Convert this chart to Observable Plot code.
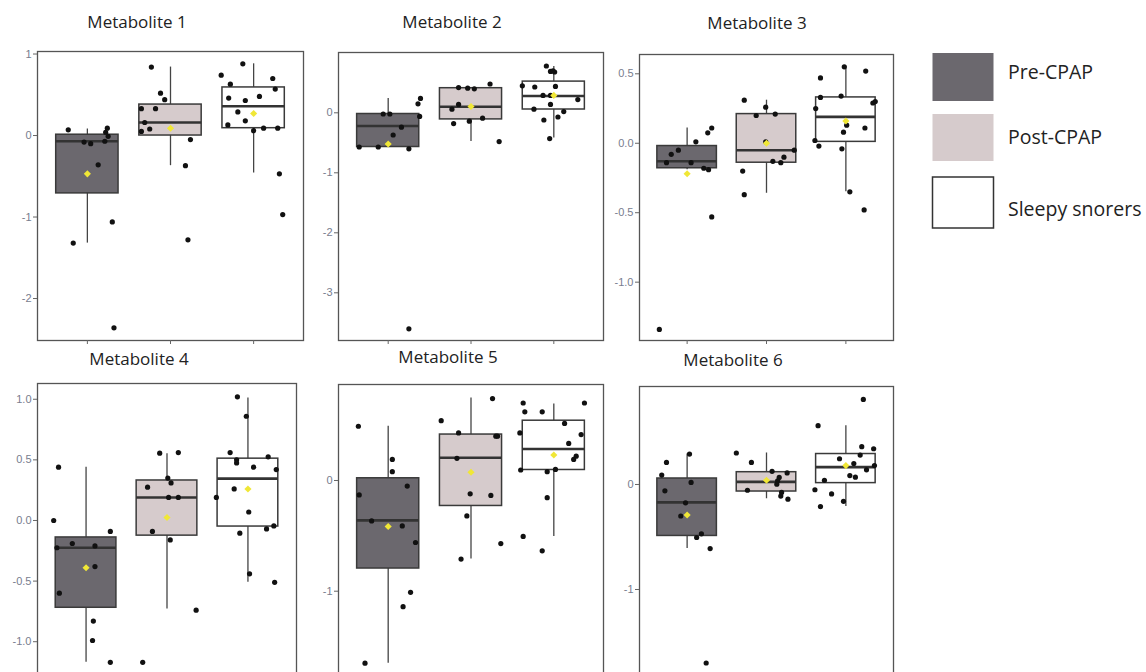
<!DOCTYPE html>
<html><head><meta charset="utf-8">
<script src="https://cdn.jsdelivr.net/npm/d3@7"></script>
<script src="https://cdn.jsdelivr.net/npm/@observablehq/plot@0.6"></script>
<style>
html,body{margin:0;padding:0;background:#fff;overflow:hidden;}
#root{position:relative;width:1146px;height:672px;overflow:hidden;background:#fff;}
</style></head><body><div id="root"></div>
<script>
// ---------- DATA ----------
const groups = ["Pre-CPAP", "Post-CPAP", "Sleepy snorers"];
const metabolites = ["Metabolite 1", "Metabolite 2", "Metabolite 3", "Metabolite 4", "Metabolite 5", "Metabolite 6"];

const yTicks = [[1, 0, -1, -2], [0, -1, -2, -3], [0.5, 0, -0.5, -1], [1, 0.5, 0, -0.5, -1], [0, -1], [0, -1]];
const tickDecimals = [0, 0, 1, 1, 0, 0];
const yDomains = [[-2.515, 1.031], [-3.795, 1.005], [-1.42, 0.639], [-1.485, 1.13], [-1.987, 0.867], [-2.057, 0.933]];

// rows = metabolites, columns = groups
const boxQ1 = [[-0.71, 0.0, 0.09], [-0.57, -0.11, 0.055], [-0.18, -0.14, 0.01], [-0.72, -0.125, -0.05], [-0.795, -0.23, 0.095], [-0.49, -0.067, 0.013]];
const boxMedian = [[-0.07, 0.16, 0.36], [-0.22, 0.10, 0.28], [-0.13, -0.05, 0.19], [-0.225, 0.19, 0.345], [-0.36, 0.205, 0.285], [-0.17, 0.025, 0.165]];
const boxQ3 = [[0.01, 0.38, 0.59], [-0.02, 0.41, 0.52], [-0.02, 0.21, 0.33], [-0.14, 0.33, 0.51], [0.02, 0.415, 0.54], [0.057, 0.117, 0.29]];
const whiskerLow = [[-1.32, -0.37, -0.46], [-0.57, -0.48, -0.42], [-0.19, -0.36, -0.35], [-1.17, -0.73, -0.51], [-1.65, -0.71, -0.505], [-0.61, -0.136, -0.21]];
const whiskerHigh = [[0.08, 0.84, 0.88], [0.24, 0.41, 0.77], [0.11, 0.31, 0.55], [0.44, 0.55, 1.01], [0.49, 0.745, 0.69], [0.29, 0.30, 0.56]];
const means = [[-0.47, 0.09, 0.27], [-0.52, 0.105, 0.29], [-0.22, 0.0, 0.16], [-0.39, 0.025, 0.26], [-0.415, 0.075, 0.23], [-0.29, 0.04, 0.18]];

// individual points: [value, jitter (in group units)]
const m1Pre = [[0.07,-0.23],[-0.08,-0.04],[-0.10,0.04],[0.09,0.24],[0.04,0.22],[-0.01,0.25],[-0.07,0.21],[-0.36,0.13],[-1.06,0.30],[-1.32,-0.17],[-2.36,0.32]];
const m1Post = [[0.84,-0.23],[0.52,-0.12],[0.44,-0.07],[0.33,-0.35],[0.33,-0.18],[0.16,-0.31],[0.08,-0.25],[0.05,-0.35],[-0.05,0.24],[-0.37,0.18],[-1.28,0.21]];
const m1Sleepy = [[0.88,-0.13],[0.74,-0.39],[0.63,-0.28],[0.70,0.23],[0.57,0.26],[0.46,-0.30],[0.43,-0.10],[0.48,0.07],[0.29,-0.19],[0.18,-0.10],[0.13,-0.31],[0.06,0.0],[0.09,0.12],[0.09,0.29],[-0.47,0.31],[-0.97,0.35]];
const m2Pre = [[-0.57,-0.35],[-0.57,-0.12],[-0.02,-0.06],[-0.02,0.02],[-0.24,0.16],[-0.37,0.06],[-0.60,0.25],[0.15,0.36],[0.24,0.39],[-0.06,0.38],[-3.6,0.25]];
const m2Post = [[0.42,-0.15],[0.41,-0.04],[0.40,0.04],[0.48,0.23],[0.14,-0.15],[0.06,-0.23],[-0.18,-0.21],[-0.14,-0.02],[-0.09,0.14],[-0.48,0.34]];
const m2Sleepy = [[0.78,-0.09],[0.69,-0.04],[0.68,0.01],[0.70,-0.01],[0.45,-0.38],[0.43,-0.23],[0.44,0.02],[0.29,-0.13],[0.29,-0.04],[0.22,0.29],[0.14,-0.04],[0.06,-0.24],[0.02,0.12],[-0.07,0.05],[-0.12,-0.12],[-0.43,-0.05]];
const m3Pre = [[-0.14,-0.26],[-0.08,-0.20],[-0.05,-0.11],[-0.14,0.05],[0.01,0.11],[-0.18,0.21],[-0.19,0.27],[0.075,0.26],[0.11,0.31],[-0.53,0.31],[-1.34,-0.35]];
const m3Post = [[0.31,-0.28],[0.20,-0.13],[0.26,-0.01],[0.21,0.11],[-0.20,-0.30],[-0.37,-0.28],[-0.13,0.08],[-0.14,0.18],[-0.10,0.22],[-0.05,0.35],[0.01,-0.01]];
const m3Sleepy = [[0.55,-0.02],[0.52,0.25],[0.47,-0.32],[0.33,-0.32],[0.34,-0.06],[0.25,-0.38],[0.29,0.34],[0.30,0.37],[0.13,0.01],[0.08,-0.03],[0.11,0.24],[0.02,-0.39],[-0.02,-0.34],[-0.04,-0.05],[-0.35,0.05],[-0.48,0.23]];
const m4Pre = [[0.44,-0.34],[0.0,-0.40],[-0.225,-0.36],[-0.19,-0.17],[-0.21,0.11],[-0.09,0.30],[-0.38,0.11],[-0.60,-0.33],[-0.83,0.09],[-0.99,0.08],[-1.17,0.30]];
const m4Post = [[0.555,-0.09],[0.56,0.14],[0.275,-0.24],[0.35,0.01],[0.31,0.05],[0.19,0.02],[0.19,0.14],[-0.09,-0.18],[-0.16,0.04],[-0.74,0.36],[-1.17,-0.30]];
const m4Sleepy = [[1.02,-0.13],[0.86,-0.02],[0.56,-0.22],[0.50,-0.14],[0.475,-0.14],[0.44,0.07],[0.525,0.25],[0.42,0.35],[0.26,-0.17],[0.19,-0.39],[0.07,0.01],[-0.105,-0.10],[-0.07,0.23],[-0.045,0.32],[-0.44,0.02],[-0.51,0.33]];
const m5Pre = [[0.49,-0.36],[0.19,0.05],[0.08,0.05],[-0.13,-0.35],[-0.05,0.23],[-0.365,-0.20],[-0.41,0.17],[-0.56,0.33],[-1.01,0.27],[-1.14,0.18],[-1.65,-0.28]];
const m5Post = [[0.54,-0.36],[0.43,-0.15],[0.40,0.30],[0.40,0.32],[0.20,-0.17],[0.74,0.26],[-0.12,-0.01],[-0.135,0.24],[-0.32,-0.05],[-0.57,0.36],[-0.71,-0.12]];
const m5Sleepy = [[0.70,-0.37],[0.62,-0.35],[0.62,-0.14],[0.70,0.37],[0.515,0.13],[0.43,-0.41],[0.415,0.33],[0.335,0.18],[0.22,0.27],[0.19,0.24],[0.095,-0.40],[0.08,-0.08],[0.10,0.02],[-0.155,-0.08],[-0.505,-0.37],[-0.635,-0.14]];
const m6Pre = [[0.29,0.03],[0.21,-0.26],[0.09,-0.32],[0.02,0.05],[-0.06,-0.28],[-0.175,-0.02],[-0.30,-0.08],[-0.47,0.18],[-0.505,0.12],[-0.61,0.29],[-1.70,0.24]];
const m6Post = [[0.30,-0.38],[0.21,-0.19],[0.125,0.07],[0.11,0.26],[0.067,0.16],[0.035,0.14],[0.003,0.13],[-0.055,-0.24],[-0.076,0.19],[-0.11,0.18],[-0.14,0.27]];
const m6Sleepy = [[0.81,0.22],[0.56,-0.35],[0.36,0.20],[0.34,0.35],[0.28,0.18],[0.245,-0.08],[0.20,0.10],[0.18,0.36],[0.14,0.26],[0.085,0.05],[0.07,0.12],[0.04,-0.27],[-0.05,-0.39],[-0.09,-0.18],[-0.16,-0.03],[-0.21,-0.32]];

const points = [
  [m1Pre, m1Post, m1Sleepy], [m2Pre, m2Post, m2Sleepy], [m3Pre, m3Post, m3Sleepy],
  [m4Pre, m4Post, m4Sleepy], [m5Pre, m5Post, m5Sleepy], [m6Pre, m6Post, m6Sleepy]
];

// ---------- STYLE / LAYOUT ----------
const groupFill = ["#6b686e", "#d6cbcc", "#ffffff"];
const layout = [
  {left: 37,  top: 51,  width: 266, bottom: 340, tx: 137, ty: 28},
  {left: 338, top: 52,  width: 265, bottom: 340, tx: 452, ty: 28},
  {left: 639, top: 54,  width: 254, bottom: 340, tx: 757, ty: 29},
  {left: 37,  top: 383, width: 259, bottom: 700, tx: 139, ty: 365},
  {left: 338, top: 384, width: 265, bottom: 700, tx: 448, ty: 363},
  {left: 639, top: 386, width: 254, bottom: 700, tx: 733, ty: 366}
];
const mL = 40, mR = 6, mT = 8, mB = 10;
const halfBox = 0.375;

const root = document.getElementById("root");

metabolites.forEach((name, i) => {
  const L = layout[i];
  const stats = groups.map((g, j) => ({
    group: g, gi: j,
    q1: boxQ1[i][j], med: boxMedian[i][j], q3: boxQ3[i][j],
    lo: whiskerLow[i][j], hi: whiskerHigh[i][j], mean: means[i][j]
  }));
  const pts = points[i].flatMap((arr, j) => arr.map(([v, jit]) => ({gi: j, v, jit})));
  const fmt = d => tickDecimals[i] ? d.toFixed(1) : String(d);
  const chart = Plot.plot({
    width: L.width + mL + mR,
    height: (L.bottom - L.top) + mT + mB,
    marginLeft: mL, marginRight: mR, marginTop: mT, marginBottom: mB,
    x: {domain: [-0.6, 2.6]},
    y: {domain: yDomains[i]},
    color: {type: "identity"},
    style: {fontFamily: "'Liberation Sans', Arial, sans-serif", fontSize: "11px", background: "transparent", overflow: "visible"},
    marks: [
      Plot.frame({fill: "#fff", stroke: "#555", strokeWidth: 1.3}),
      Plot.axisY({ticks: yTicks[i], tickFormat: fmt, tickSize: 4, tickPadding: 2, stroke: "#666", fill: "#787d8e", label: null}),
      Plot.axisX({ticks: [0, 1, 2], tickFormat: () => "", tickSize: 4, tickPadding: 0, stroke: "#666", label: null}),
      Plot.ruleX(stats, {x: "gi", y1: "lo", y2: "hi", stroke: "#444", strokeWidth: 1.3}),
      Plot.rect(stats, {x1: d => d.gi - halfBox, x2: d => d.gi + halfBox, y1: "q1", y2: "q3", fill: d => groupFill[d.gi], stroke: "#3a3a3a", strokeWidth: 1.5}),
      Plot.ruleY(stats, {y: "med", x1: d => d.gi - halfBox, x2: d => d.gi + halfBox, stroke: "#333", strokeWidth: 2.6}),
      Plot.dot(pts, {x: d => d.gi + d.jit, y: "v", r: 2.6, fill: "#111", stroke: "none"}),
      Plot.dot(stats, {x: "gi", y: "mean", symbol: "diamond2", r: 3.2, fill: "#f0e736", stroke: "none"})
    ]
  });
  chart.style.position = "absolute";
  chart.style.left = (L.left - mL) + "px";
  chart.style.top = (L.top - mT) + "px";
  root.appendChild(chart);
});

// ---------- TITLES & LEGEND ----------
const svg = d3.select(root).append("svg")
  .attr("width", 1146).attr("height", 672)
  .style("position", "absolute").style("left", "0px").style("top", "0px")
  .style("pointer-events", "none")
  .style("font-family", "'Open Sans', sans-serif");

metabolites.forEach((name, i) => {
  svg.append("text").attr("x", layout[i].tx).attr("y", layout[i].ty)
    .attr("text-anchor", "middle").attr("font-size", 17).attr("fill", "#222").text(name);
});

const legendBoxes = [
  {y: 53, h: 48, ty: 79},
  {y: 114, h: 47, ty: 144},
  {y: 177, h: 51, ty: 216}
];
groups.forEach((g, j) => {
  const b = legendBoxes[j];
  svg.append("rect").attr("x", 932.5).attr("y", b.y).attr("width", 61).attr("height", b.h)
    .attr("fill", groupFill[j])
    .attr("stroke", j === 2 ? "#333" : "none").attr("stroke-width", 1.5);
  svg.append("text").attr("x", 1008).attr("y", b.ty).attr("font-size", 19.5).attr("fill", "#222").text(g);
});
</script></body></html>
